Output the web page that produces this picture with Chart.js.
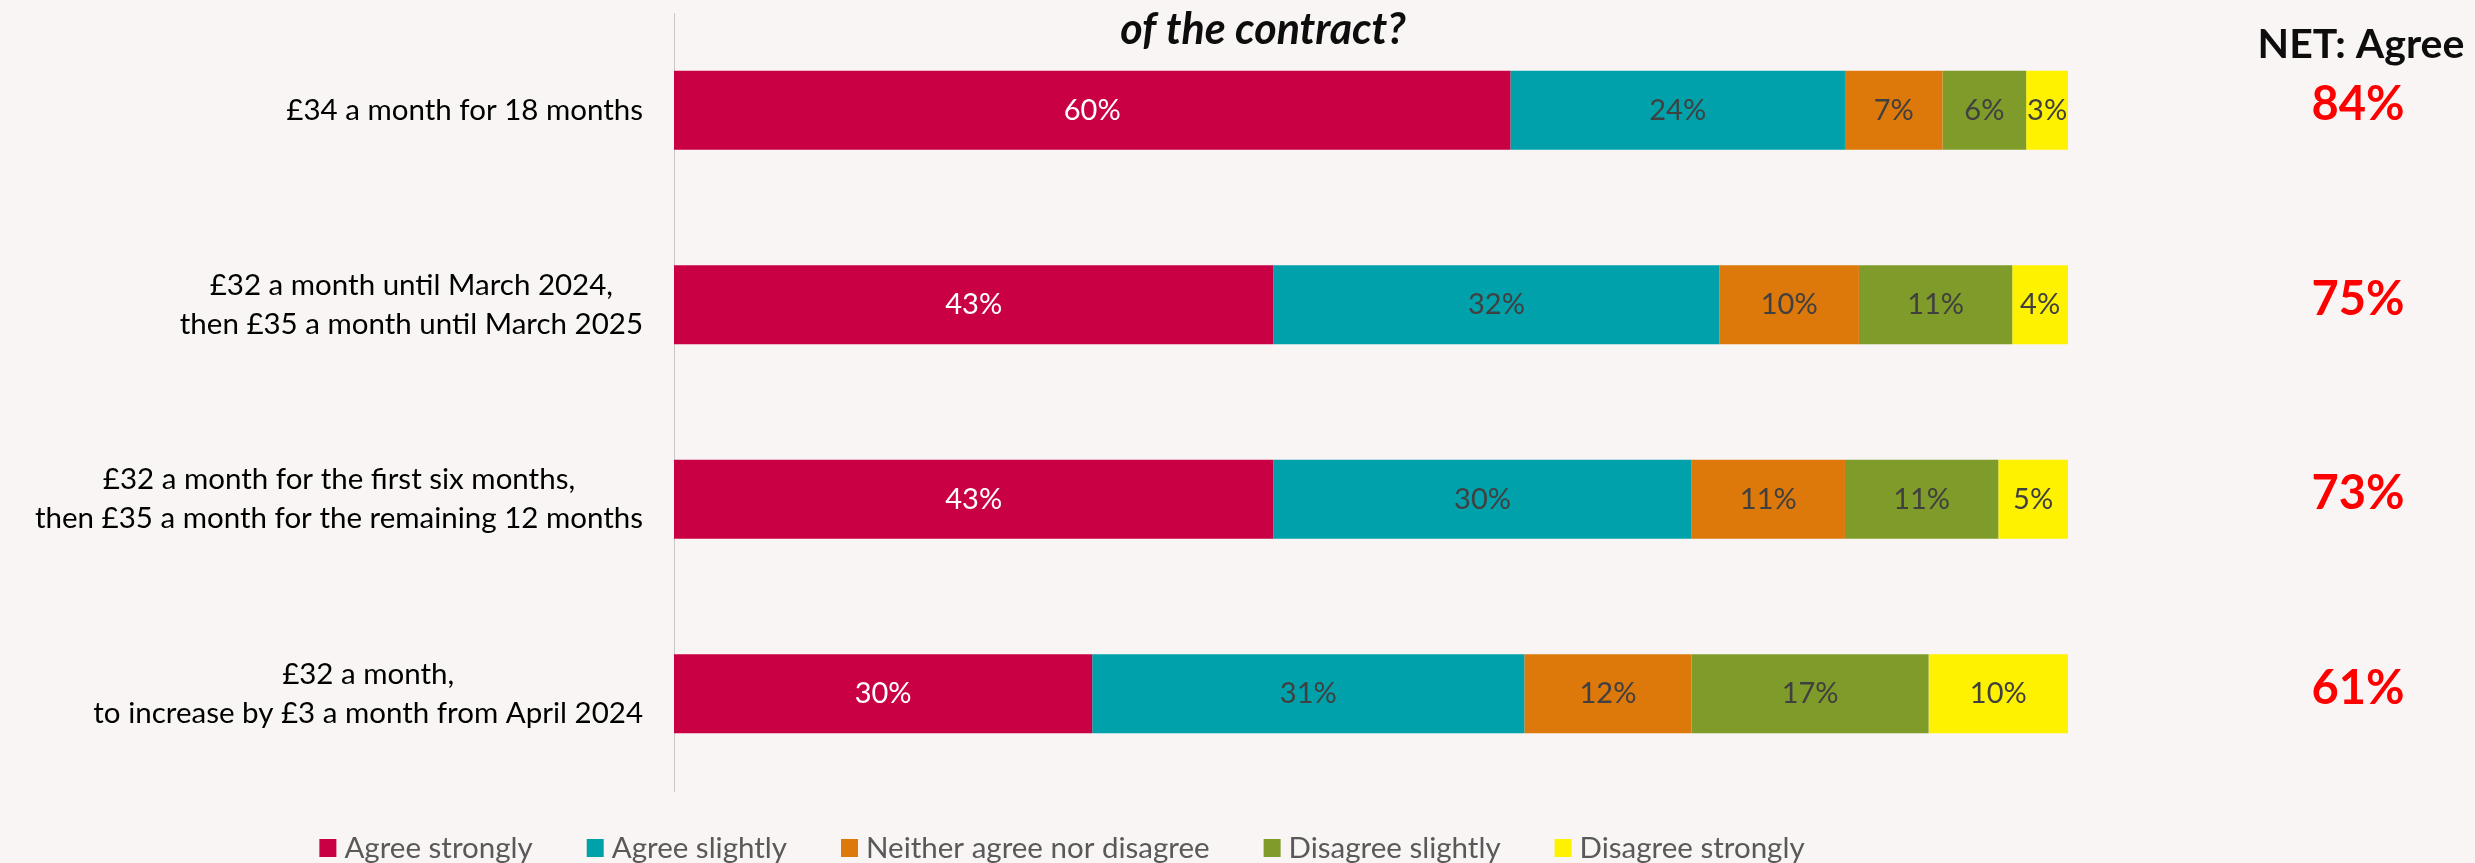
<!DOCTYPE html>
<html lang="en">
<head>
  <meta charset="UTF-8" />
  <title>Price options - agreement</title>
  <script src="https://cdn.jsdelivr.net/npm/chart.js"></script>
  <style>
    html, body { margin: 0; padding: 0; background: #F8F5F4; }
    #marco { width: 2475px; height: 863px; }
  </style>
</head>
<body>
  <div id="marco"><canvas id="grafico" width="2475" height="863"></canvas></div>

  <script>
    // datos
    const categorias = [
      ["£34 a month for 18 months"],
      ["£32 a month until March 2024,", "then £35 a month until March 2025"],
      ["£32 a month for the first six months,", "then £35 a month for the remaining 12 months"],
      ["£32 a month,", "to increase by £3 a month from April 2024"]
    ];
    const series = ["Agree strongly", "Agree slightly", "Neither agree nor disagree", "Disagree slightly", "Disagree strongly"];
    const agreeStrongly = [60, 43, 43, 30];
    const agreeSlightly = [24, 32, 30, 31];
    const neither = [7, 10, 11, 12];
    const disagreeSlightly = [6, 11, 11, 17];
    const disagreeStrongly = [3, 4, 5, 10];
    const netAgree = [84, 75, 73, 61];
    const colores = ["#C90044", "#00A1AA", "#DD780A", "#7F9B29", "#FFF200"];

    const FUENTE = "Lato, 'Open Sans', sans-serif";

    const textos = {
      id: "textos",
      afterDatasetsDraw(chart) {
        const { ctx, scales: { y } } = chart;
        ctx.save();

        // etiquetas dentro de las barras
        ctx.font = "29px " + FUENTE;
        ctx.textAlign = "center";
        ctx.textBaseline = "middle";
        chart.data.datasets.forEach((ds, i) => {
          chart.getDatasetMeta(i).data.forEach((bar, j) => {
            const p = bar.getCenterPoint();
            ctx.fillStyle = i === 0 ? "#FFFFFF" : "#404040";
            ctx.fillText(ds.data[j] + "%", p.x, p.y);
          });
        });

        // categorias (bloque alineado a la derecha, lineas centradas)
        ctx.fillStyle = "#000000";
        ctx.font = "29.5px " + FUENTE;
        categorias.forEach((lineas, j) => {
          const ancho = Math.max(...lineas.map(l => ctx.measureText(l).width));
          const cx = 643 - ancho / 2;
          const cy = y.getPixelForValue(j);
          lineas.forEach((l, k) => {
            ctx.fillText(l, cx, cy + (k - (lineas.length - 1) / 2) * 39);
          });
        });

        // titulo cortado
        ctx.fillStyle = "#0D0D0D";
        ctx.font = "italic bold 43px " + FUENTE;
        ctx.textBaseline = "alphabetic";
        ctx.fillText("of the contract?", 1263, 44);

        // NET: Agree
        ctx.font = "bold 41px " + FUENTE;
        ctx.fillText("NET: Agree", 2361, 58);
        ctx.fillStyle = "#FF0000";
        ctx.font = "bold 47px " + FUENTE;
        ctx.textBaseline = "middle";
        netAgree.forEach((v, j) => {
          ctx.fillText(v + "%", 2358, y.getPixelForValue(j) - 5);
        });

        // leyenda
        ctx.font = "29.5px " + FUENTE;
        ctx.textAlign = "left";
        const caja = 17, hueco = 8, sep = 54;
        const anchos = series.map(s => caja + hueco + ctx.measureText(s).width);
        const total = anchos.reduce((a, b) => a + b, 0) + sep * (series.length - 1);
        let x = 1062 - total / 2;
        series.forEach((s, i) => {
          ctx.fillStyle = colores[i];
          ctx.fillRect(x, 839, caja, 18);
          ctx.fillStyle = "#595959";
          ctx.fillText(s, x + caja + hueco, 848);
          x += anchos[i] + sep;
        });

        ctx.restore();
      }
    };

    const valores = [agreeStrongly, agreeSlightly, neither, disagreeSlightly, disagreeStrongly];

    new Chart(document.getElementById("grafico"), {
      type: "bar",
      data: {
        labels: categorias,
        datasets: series.map((s, i) => ({
          label: s,
          data: valores[i],
          backgroundColor: colores[i],
          borderWidth: 0,
          barPercentage: 0.406,
          categoryPercentage: 1
        }))
      },
      options: {
        indexAxis: "y",
        responsive: false,
        animation: false,
        devicePixelRatio: 1,
        layout: { padding: { top: 13, right: 407, bottom: 72, left: 0 } },
        scales: {
          x: { stacked: true, min: 0, max: 100, display: false },
          y: {
            stacked: true,
            grid: { display: false },
            ticks: { display: false },
            border: { display: true, color: "#C8C8C8", width: 1 },
            afterFit: scale => { scale.width = 674; }
          }
        },
        plugins: {
          legend: { display: false },
          tooltip: { enabled: false }
        }
      },
      plugins: [textos]
    });
  </script>
</body>
</html>
